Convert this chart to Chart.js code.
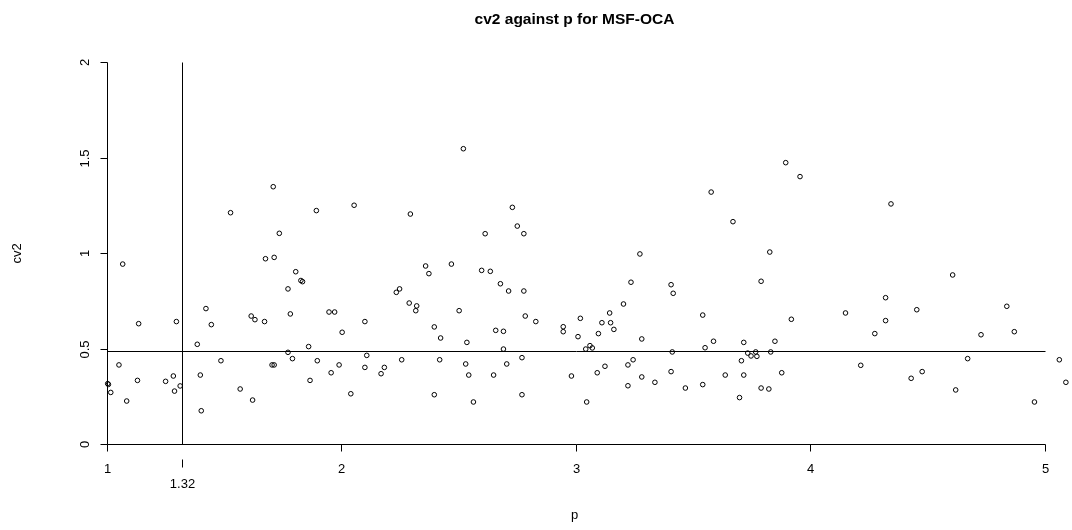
<!DOCTYPE html>
<html>
<head>
<meta charset="utf-8">
<title>cv2 against p for MSF-OCA</title>
<script src="https://cdn.jsdelivr.net/npm/chart.js@4.4.1/dist/chart.umd.min.js"></script>
<style>
  html, body { margin: 0; padding: 0; background: #fff; }
  #wrap { width: 1072px; height: 530px; position: relative; }
</style>
</head>
<body>
<div id="wrap"><canvas id="plot"></canvas></div>
<script>
// p values of each observation
const pValues = [
  1.709, 1.527, 1.893, 1.735, 1.676, 1.713, 1.067, 1.805, 1.827, 1.834,
  1.772, 1.422, 1.135, 1.296, 1.445, 1.615, 1.631, 1.672, 1.782, 1.947,
  1.971, 1.385, 1.860, 1.772, 1.791, 1.051, 1.486, 1.704, 1.713, 1.897,
  1.990, 1.956, 1.003, 1.006, 1.016, 1.130, 1.250, 1.283, 1.288, 1.312,
  1.398, 1.084, 1.568, 1.621, 1.402, 1.866,
  2.520, 2.054, 2.294, 2.729, 2.750, 2.613, 2.778, 2.359, 2.469, 2.373,
  2.598, 2.635, 2.678, 2.713, 2.778, 2.234, 2.248, 2.289, 2.321, 2.317,
  2.502, 2.100, 2.003, 2.784, 2.829, 2.396, 2.423, 2.658, 2.691, 2.535,
  2.691, 2.946, 2.946, 3.019, 3.009, 2.108, 2.100, 2.183, 2.169, 2.257,
  2.419, 2.530, 2.543, 2.649, 2.705, 2.770, 2.981, 2.040, 2.396, 2.563,
  2.770,
  3.895, 3.956, 3.577, 3.670, 3.827, 3.273, 3.790, 3.235, 3.406, 3.415,
  3.203, 3.144, 3.111, 3.148, 3.162, 3.096, 3.541, 3.919, 3.281, 3.587,
  3.716, 3.849, 3.551, 3.042, 3.060, 3.070, 3.411, 3.733, 3.747, 3.767,
  3.772, 3.831, 3.706, 3.244, 3.222, 3.124, 3.091, 3.281, 3.406, 3.222,
  3.337, 3.467, 3.541, 3.637, 3.716, 3.878, 3.790, 3.823, 3.698, 3.046,
  4.344, 4.607, 4.321, 4.150, 4.454, 4.838, 4.321, 4.275, 4.728, 4.870,
  4.671, 4.215, 4.477, 4.430, 4.620, 4.956, 5.062, 5.090
];

// cv2 values, same order as pValues
const cv2Values = [
  1.347, 1.211, 1.222, 1.103, 0.970, 0.977, 0.942, 0.902, 0.856, 0.850,
  0.812, 0.709, 0.630, 0.641, 0.625, 0.670, 0.651, 0.641, 0.681, 0.691,
  0.691, 0.522, 0.510, 0.480, 0.447, 0.414, 0.436, 0.414, 0.414, 0.436,
  0.414, 0.373, 0.316, 0.312, 0.270, 0.333, 0.328, 0.356, 0.277, 0.304,
  0.361, 0.225, 0.288, 0.230, 0.174, 0.333,
  1.546, 1.250, 1.204, 1.239, 1.141, 1.101, 1.101, 0.932, 0.942, 0.892,
  0.909, 0.904, 0.839, 0.801, 0.801, 0.794, 0.812, 0.738, 0.723, 0.698,
  0.698, 0.641, 0.585, 0.670, 0.641, 0.613, 0.555, 0.595, 0.590, 0.532,
  0.497, 0.614, 0.588, 0.658, 0.562, 0.464, 0.401, 0.401, 0.368, 0.441,
  0.441, 0.419, 0.361, 0.361, 0.419, 0.452, 0.356, 0.263, 0.258, 0.220,
  0.258,
  1.473, 1.400, 1.319, 1.164, 1.005, 0.995, 0.852, 0.847, 0.834, 0.789,
  0.733, 0.686, 0.635, 0.635, 0.600, 0.578, 0.675, 0.653, 0.550, 0.538,
  0.532, 0.538, 0.504, 0.497, 0.515, 0.503, 0.482, 0.476, 0.461, 0.482,
  0.459, 0.482, 0.436, 0.441, 0.414, 0.407, 0.373, 0.351, 0.379, 0.305,
  0.323, 0.293, 0.311, 0.361, 0.361, 0.373, 0.293, 0.288, 0.243, 0.220,
  1.257, 0.885, 0.766, 0.686, 0.703, 0.721, 0.646, 0.578, 0.572, 0.588,
  0.447, 0.412, 0.379, 0.344, 0.283, 0.220, 0.441, 0.323
];

// axis ticks and reference lines
const xTickValues = [1, 2, 3, 4, 5];
const xTickLabels = ['1', '2', '3', '4', '5'];
const yTickValues = [0, 0.5, 1, 1.5, 2];
const yTickLabels = ['0', '0.5', '1', '1.5', '2'];
const markedP = 1.32;
const markedPLabel = '1.32';
const meanCv2 = 0.487;

const titleText = 'cv2 against p for MSF-OCA';
const xTitle = 'p';
const yTitle = 'cv2';

const FONT = '"Liberation Sans", Arial, Helvetica, sans-serif';

const points = pValues.map((p, i) => ({ x: p, y: cv2Values[i] }));

// R-style base graphics: axes ending at the outer ticks, extra marker at p = 1.32
const basePlotFrame = {
  id: 'basePlotFrame',
  beforeDatasetsDraw(chart) {
    const ctx = chart.ctx;
    const xs = chart.scales.x;
    const ys = chart.scales.y;
    const X = v => Math.round(xs.getPixelForValue(v)) + 0.5;
    const Y = v => Math.round(ys.getPixelForValue(v)) + 0.5;
    const xFirst = xTickValues[0], xLast = xTickValues[xTickValues.length - 1];
    const yFirst = yTickValues[0], yLast = yTickValues[yTickValues.length - 1];
    const tick = 7;

    ctx.save();
    ctx.strokeStyle = '#000';
    ctx.lineWidth = 1;
    ctx.fillStyle = '#000';

    // x axis
    ctx.beginPath();
    ctx.moveTo(X(xFirst), Y(0));
    ctx.lineTo(X(xLast), Y(0));
    xTickValues.forEach(v => {
      ctx.moveTo(X(v), Y(0));
      ctx.lineTo(X(v), Y(0) + tick);
    });
    // y axis
    ctx.moveTo(X(xFirst), Y(yFirst));
    ctx.lineTo(X(xFirst), Y(yLast));
    yTickValues.forEach(v => {
      ctx.moveTo(X(xFirst), Y(v));
      ctx.lineTo(X(xFirst) - tick, Y(v));
    });
    // reference lines
    ctx.moveTo(X(xFirst), Y(meanCv2));
    ctx.lineTo(X(xLast), Y(meanCv2));
    ctx.moveTo(X(markedP), Y(yFirst));
    ctx.lineTo(X(markedP), Y(yLast));
    // secondary tick for the marked p
    ctx.moveTo(X(markedP), Y(0) + 15);
    ctx.lineTo(X(markedP), Y(0) + 23);
    ctx.stroke();

    // tick labels
    ctx.font = '13px ' + FONT;
    ctx.textAlign = 'center';
    ctx.textBaseline = 'middle';
    xTickValues.forEach((v, i) => {
      ctx.fillText(xTickLabels[i], X(v), Y(0) + 25);
    });
    ctx.fillText(markedPLabel, X(markedP), Y(0) + 40);

    yTickValues.forEach((v, i) => {
      ctx.save();
      ctx.translate(X(xFirst) - 22, Y(v));
      ctx.rotate(-Math.PI / 2);
      ctx.fillText(yTickLabels[i], 0, 0);
      ctx.restore();
    });

    // axis titles
    const midX = (X(xFirst) + X(xLast)) / 2 - 2;
    ctx.textBaseline = 'alphabetic';
    ctx.fillText(xTitle, midX, 519);
    ctx.save();
    ctx.translate(21, (Y(yFirst) + Y(yLast)) / 2);
    ctx.rotate(-Math.PI / 2);
    ctx.fillText(yTitle, 0, 0);
    ctx.restore();

    // main title
    ctx.font = 'bold 15.5px ' + FONT;
    ctx.fillText(titleText, midX, 24);
    ctx.restore();
  }
};

new Chart(document.getElementById('plot'), {
  type: 'scatter',
  data: {
    datasets: [{
      label: 'cv2',
      data: points,
      pointStyle: 'circle',
      pointRadius: 2.3,
      pointHoverRadius: 2.3,
      pointBorderWidth: 1,
      pointBorderColor: '#000',
      pointBackgroundColor: 'rgba(0,0,0,0)',
      showLine: false,
      clip: false
    }]
  },
  options: {
    responsive: true,
    maintainAspectRatio: false,
    animation: false,
    events: [],
    layout: { padding: { left: 107, right: 0, top: 62, bottom: 86 } },
    scales: {
      x: { type: 'linear', min: 1, max: 5.102, display: false },
      y: { type: 'linear', min: 0, max: 2, display: false }
    },
    plugins: {
      legend: { display: false },
      title: { display: false },
      tooltip: { enabled: false }
    }
  },
  plugins: [basePlotFrame]
});
</script>
</body>
</html>
